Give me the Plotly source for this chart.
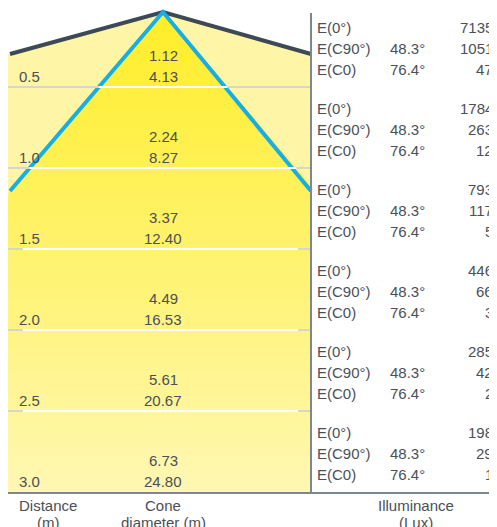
import plotly.graph_objects as go

distance = ["0.5", "1.0", "1.5", "2.0", "2.5", "3.0"]
cone_a = ["1.12", "2.24", "3.37", "4.49", "5.61", "6.73"]
cone_d = ["4.13", "8.27", "12.40", "16.53", "20.67", "24.80"]
e0 = [7135, 1784, 793, 446, 285, 198]
ec90 = [1051, 263, 117, 66, 42, 29]
ec0 = [47, 12, 5, 3, 2, 1]
angle_c90 = "48.3°"
angle_c0 = "76.4°"

W, H = 497, 527
TXT = "#4a5058"
row_h = 81
row_top = 79  # y of first row line

def cone_half(y):
    return (y - 4) * 153 / 179

fig = go.Figure()

# pale background under the roof
fig.add_shape(type="path", path="M 0 46 L 155 4 L 303 46 L 303 485 L 0 485 Z",
              fillcolor="#fff5a6", line=dict(width=0), layer="below")

# brighter cone, drawn in thin stripes for a vertical gradient
step = 4
y = 4
while y < 485:
    y2 = min(y + step, 485)
    t = y / 485
    g = int(238 + 10 * t)
    b = int(40 + 140 * t)
    h1, h2 = cone_half(y), cone_half(y2 + 1)
    xa1, xb1 = max(155 - h1, 0), min(155 + h1, 303)
    xa2, xb2 = max(155 - h2, 0), min(155 + h2, 303)
    fig.add_shape(type="path",
                  path=f"M {xa1} {y} L {xb1} {y} L {xb2} {y2 + 1} L {xa2} {y2 + 1} Z",
                  fillcolor=f"rgb(255,{g},{b})", line=dict(width=0), layer="below")
    y = y2

# row lines
for k in range(len(distance)):
    yy = row_top + k * row_h
    if k == len(distance) - 1:
        break
    fig.add_shape(type="line", x0=0, x1=303, y0=yy, y1=yy, line=dict(color="#d6d6cc", width=2))
    h = cone_half(yy)
    x0, x1 = (155 - h, 155 + h) if yy < 183 else (15, 290)
    fig.add_shape(type="line", x0=x0, x1=x1, y0=yy, y1=yy, line=dict(color="white", width=2))

# frame lines
fig.add_shape(type="line", x0=0, x1=W, y0=485, y1=485, line=dict(color="#7d8790", width=2))
fig.add_shape(type="line", x0=303, x1=303, y0=5, y1=485, line=dict(color="#7d8790", width=2))

# roof and cone
fig.add_trace(go.Scatter(x=[2, 155, 303], y=[46, 4, 46], mode="lines",
                         line=dict(color="#3d4a55", width=4), hoverinfo="skip"))
fig.add_trace(go.Scatter(x=[2, 155, 303], y=[183, 4, 183], mode="lines",
                         line=dict(color="#15aee6", width=4), hoverinfo="skip"))

f = dict(family="Liberation Sans, Arial", size=15, color=TXT)
def txt(x, y, s, anchor="left"):
    fig.add_annotation(x=x, y=y, text=s, showarrow=False, xanchor=anchor, yanchor="middle",
                       font=f, borderpad=0)

for k in range(len(distance)):
    b = k * row_h
    txt(10, 68 + b, distance[k])
    txt(155, 47 + b, cone_a[k], "center")
    txt(155, 68 + b, cone_d[k], "center")
    txt(308, 19 + b, "E(0°)")
    txt(308, 40 + b, "E(C90°)")
    txt(308, 61 + b, "E(C0)")
    txt(381, 40 + b, angle_c90)
    txt(381, 61 + b, angle_c0)
    txt(486, 19 + b, str(e0[k]), "right")
    txt(486, 40 + b, str(ec90[k]), "right")
    txt(486, 61 + b, str(ec0[k]), "right")

txt(40, 497, "Distance", "center")
txt(40, 514, "(m)", "center")
txt(155, 497, "Cone", "center")
txt(155, 514, "diameter (m)", "center")
txt(408, 497, "Illuminance", "center")
txt(408, 514, "(Lux)", "center")

fig.update_layout(width=W, height=H, margin=dict(l=0, r=0, t=0, b=0),
                  paper_bgcolor="white", plot_bgcolor="white", showlegend=False)
fig.update_xaxes(range=[0, W], visible=False)
fig.update_yaxes(range=[H, 0], visible=False)
fig.write_html("out.html")
